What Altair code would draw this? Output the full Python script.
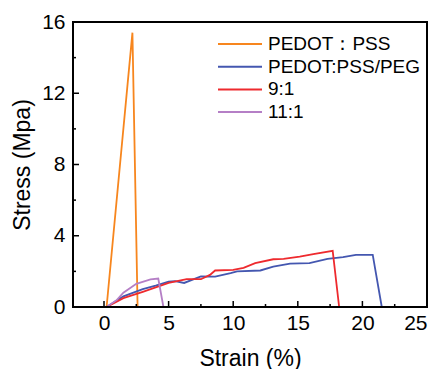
import altair as alt
import pandas as pd

series_names = ["PEDOT：PSS", "PEDOT:PSS/PEG", "9:1", "11:1"]
series_colors = ["#F7861E", "#4457B0", "#EE2A2E", "#B57FC6"]

orange_x = [0.2, 2.2, 2.6]
orange_y = [0.0, 15.4, 0.0]

blue_x = [0.2, 1.5, 3.0, 4.0, 5.0, 5.5, 6.2, 7.5, 8.6, 9.8, 10.3, 12.1, 13.1, 14.4, 15.9, 17.3, 18.5, 19.5, 20.8, 21.5]
blue_y = [0.0, 0.6, 1.0, 1.2, 1.43, 1.45, 1.35, 1.72, 1.7, 1.9, 2.0, 2.05, 2.27, 2.43, 2.46, 2.7, 2.8, 2.93, 2.93, 0.0]

red_x = [0.2, 1.5, 3.0, 5.0, 6.4, 7.5, 8.2, 8.6, 10.0, 10.8, 11.7, 13.1, 13.9, 15.15, 16.2, 17.7, 18.2]
red_y = [0.0, 0.5, 0.85, 1.35, 1.56, 1.56, 1.8, 2.05, 2.08, 2.2, 2.46, 2.68, 2.7, 2.83, 2.97, 3.15, 0.0]

purple_x = [0.2, 1.0, 1.5, 2.5, 3.6, 4.2, 4.6]
purple_y = [0.0, 0.4, 0.8, 1.3, 1.55, 1.6, 0.0]

x_domain = [-2.4, 25]
y_domain = [0, 16]
x_major = [0, 5, 10, 15, 20, 25]
x_minor = [2.5, 7.5, 12.5, 17.5, 22.5]
y_major = [0, 4, 8, 12, 16]
y_minor = [2, 6, 10, 14]

rows = []
for name, xs, ys in zip(series_names, [orange_x, blue_x, red_x, purple_x], [orange_y, blue_y, red_y, purple_y]):
    for i, (a, b) in enumerate(zip(xs, ys)):
        rows.append({"series": name, "strain": a, "stress": b, "idx": i})
df = pd.DataFrame(rows)

W, H = 354, 285
font = "Liberation Sans"

xscale = alt.Scale(domain=x_domain, nice=False, zero=False)
yscale = alt.Scale(domain=y_domain, nice=False)
cscale = alt.Scale(domain=series_names, range=series_colors)

lines = alt.Chart(df).mark_line(strokeWidth=1.8).encode(
    x=alt.X("strain:Q", scale=xscale,
            axis=alt.Axis(title="Strain (%)", values=x_major, ticks=False, domain=False, grid=False,
                          labelPadding=5, labelFontSize=21, titleFontSize=23, titlePadding=14,
                          labelFont=font, titleFont=font,
                          titleFontWeight="normal", labelColor="black", titleColor="black")),
    y=alt.Y("stress:Q", scale=yscale,
            axis=alt.Axis(title="Stress (Mpa)", values=y_major, ticks=False, domain=False, grid=False,
                          labelPadding=8, labelFontSize=21, titleFontSize=23, titlePadding=7,
                          labelFont=font, titleFont=font,
                          titleFontWeight="normal", labelColor="black", titleColor="black")),
    color=alt.Color("series:N", scale=cscale, legend=None),
    order="idx:Q",
)

xmaj = alt.Chart(pd.DataFrame({"v": x_major})).mark_rule(color="black", strokeWidth=1.5).encode(
    x=alt.X("v:Q", scale=xscale), y=alt.value(H), y2=alt.value(H - 6))
xmin = alt.Chart(pd.DataFrame({"v": x_minor})).mark_rule(color="black", strokeWidth=1.5).encode(
    x=alt.X("v:Q", scale=xscale), y=alt.value(H), y2=alt.value(H - 3))
ymaj = alt.Chart(pd.DataFrame({"w": y_major})).mark_rule(color="black", strokeWidth=1.5).encode(
    y=alt.Y("w:Q", scale=yscale), x=alt.value(0), x2=alt.value(6))
ymin = alt.Chart(pd.DataFrame({"w": y_minor})).mark_rule(color="black", strokeWidth=1.5).encode(
    y=alt.Y("w:Q", scale=yscale), x=alt.value(0), x2=alt.value(3))

frame_v = alt.Chart(pd.DataFrame({"v": x_domain})).mark_rule(color="black", strokeWidth=2).encode(
    x=alt.X("v:Q", scale=xscale), y=alt.value(0), y2=alt.value(H))
frame_h = alt.Chart(pd.DataFrame({"w": y_domain})).mark_rule(color="black", strokeWidth=2).encode(
    y=alt.Y("w:Q", scale=yscale), x=alt.value(0), x2=alt.value(W))

legend_layers = []
for i, name in enumerate(series_names):
    ypos = 22 + i * 22.7
    d = pd.DataFrame({"series": [name]})
    legend_layers.append(
        alt.Chart(d).mark_rule(strokeWidth=2).encode(
            x=alt.value(145), x2=alt.value(189), y=alt.value(ypos),
            color=alt.Color("series:N", scale=cscale, legend=None))
    )
    legend_layers.append(
        alt.Chart(d).mark_text(align="left", baseline="middle", fontSize=19, font=font,
                               color="black").encode(
            x=alt.value(195), y=alt.value(ypos), text="series:N")
    )

chart = alt.layer(lines, xmaj, xmin, ymaj, ymin, *legend_layers, frame_v, frame_h).properties(
    width=W, height=H,
    autosize=alt.AutoSizeParams(type="none"),
    padding={"left": 73, "top": 22, "right": 14, "bottom": 62},
).configure_view(stroke="black", strokeWidth=2)

chart.save("out.html", embed_options={"renderer": "svg", "actions": False})
